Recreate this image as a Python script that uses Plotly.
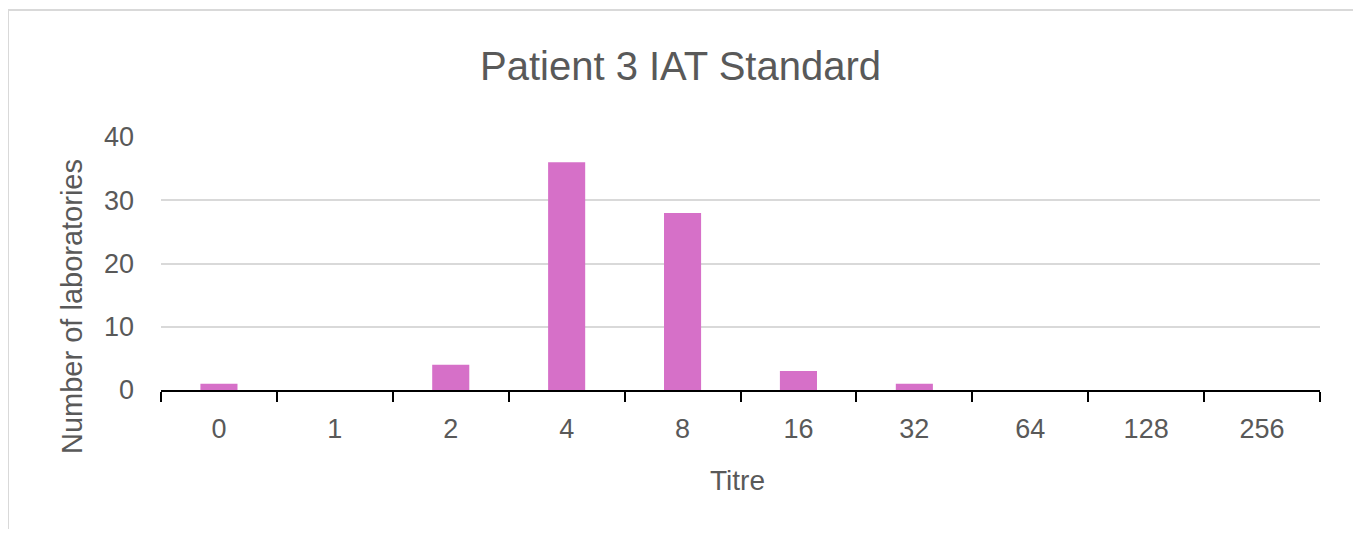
import plotly.graph_objects as go

categories = ["0", "1", "2", "4", "8", "16", "32", "64", "128", "256"]
laboratories = [1, 0, 4, 36, 28, 3, 1, 0, 0, 0]
y_ticks = [0, 10, 20, 30, 40]

title_text = "Patient 3 IAT Standard"
x_title = "Titre"
y_title = "Number of laboratories"

GRAY = "#595959"
FONT = "Liberation Sans"
OFF = 8  # default page body margin

fig = go.Figure()
fig.add_trace(go.Bar(
    x=categories, y=laboratories,
    marker=dict(color="#D670C8", line=dict(width=0)),
))

W, H = 1345, 521
L, T = 161 - OFF, 137 - OFF
R = W + OFF - 1320
B = H + OFF - 390
pw, ph = W - L - R, H - T - B

def px_x(x):
    return (x - OFF - L) / pw

def px_y(y):
    return (H - B - (y - OFF)) / ph

fig.update_layout(
    width=W, height=H,
    margin=dict(l=L, r=R, t=T, b=B, pad=0),
    paper_bgcolor="white", plot_bgcolor="white",
    showlegend=False,
    bargap=0.68,
    font=dict(family=FONT, color=GRAY),
    title=dict(text=title_text, x=0.5 + 0 * 1, xref="container", xanchor="center",
               y=1 - (66 - OFF) / H, yref="container", yanchor="middle",
               font=dict(size=40, color=GRAY, family=FONT)),
    xaxis=dict(
        type="category", showline=True, linecolor="black", linewidth=2,
        ticks="outside", tickson="boundaries", ticklen=10, tickwidth=2, tickcolor="black",
        tickfont=dict(size=27, color=GRAY), showgrid=False, zeroline=False,
        ticklabelstandoff=14,
    ),
    yaxis=dict(
        range=[0, 40], tickvals=y_ticks, showline=False, zeroline=False,
        showgrid=True, gridcolor="#d9d9d9", gridwidth=2,
        tickfont=dict(size=27, color=GRAY), ticks="", ticklabelstandoff=26,
    ),
    annotations=[
        dict(text=y_title, textangle=-90, x=px_x(72), y=px_y(307), xref="paper", yref="paper",
             showarrow=False, xanchor="center", yanchor="middle", font=dict(size=29, color=GRAY)),
        dict(text=x_title, x=px_x(737), y=px_y(480), xref="paper", yref="paper",
             showarrow=False, xanchor="center", yanchor="middle", font=dict(size=28, color=GRAY)),
    ],
    shapes=[
        dict(type="rect", xref="paper", yref="paper",
             x0=px_x(8), x1=px_x(1355), y0=px_y(545), y1=px_y(10),
             line=dict(color="#d9d9d9", width=2), fillcolor="rgba(0,0,0,0)", layer="below"),
    ],
)

fig.write_html("out.html")
